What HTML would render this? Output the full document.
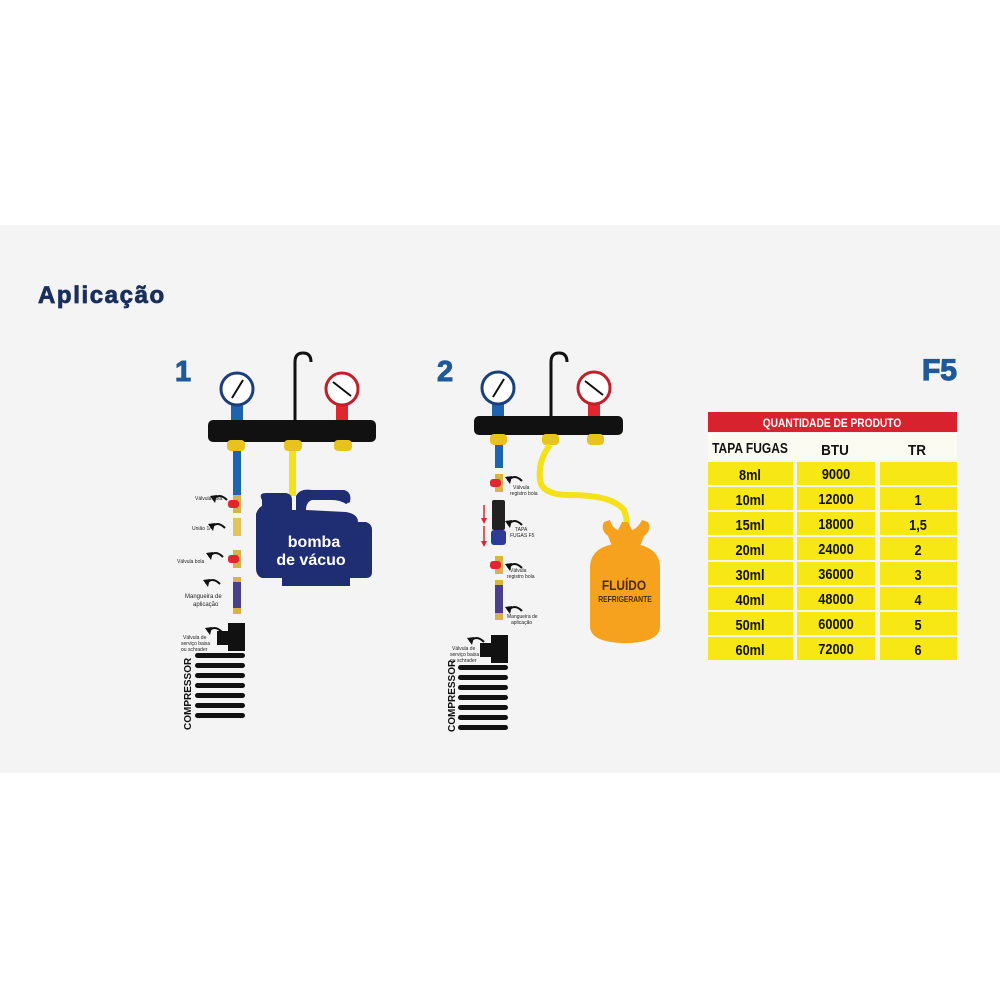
<!DOCTYPE html>
<html><head><meta charset="utf-8"><style>
html,body{margin:0;padding:0;background:#fff;}
svg{display:block;font-family:"Liberation Sans",sans-serif;}
</style></head><body>
<svg width="1000" height="1000" viewBox="0 0 1000 1000" xmlns="http://www.w3.org/2000/svg">
<defs>
<g id="arr"><path d="M0 6 Q6 -2 14 6" fill="none" stroke="#111" stroke-width="2"/><path d="M-3 2 L2 9 L4 1 Z" fill="#111"/></g>
<g id="comp">
 <rect x="33" y="0" width="17" height="28" fill="#111"/>
 <rect x="22" y="8" width="12" height="14" fill="#111"/>
 <rect x="0" y="30" width="50" height="5" rx="2.5" fill="#111"/>
 <rect x="0" y="40" width="50" height="5" rx="2.5" fill="#111"/>
 <rect x="0" y="50" width="50" height="5" rx="2.5" fill="#111"/>
 <rect x="0" y="60" width="50" height="5" rx="2.5" fill="#111"/>
 <rect x="0" y="70" width="50" height="5" rx="2.5" fill="#111"/>
 <rect x="0" y="80" width="50" height="5" rx="2.5" fill="#111"/>
 <rect x="0" y="90" width="50" height="5" rx="2.5" fill="#111"/>
</g>
<g id="valve"><rect x="-4" y="-8" width="8" height="18" fill="#d9b24a"/><rect x="-9" y="-3" width="11" height="8" rx="3" fill="#e0262e"/></g>
</defs>
<rect x="0" y="225" width="1000" height="548" fill="#f4f4f4"/>
<text x="38" y="303" font-size="24" font-weight="bold" fill="#1b2f5c" stroke="#1b2f5c" stroke-width="0.8" letter-spacing="1.6">Aplicação</text>

<!-- Diagram 1 -->
<text x="175" y="381" font-size="29" font-weight="bold" fill="#1e5a9a" stroke="#1e5a9a" stroke-width="1">1</text>
<path d="M295 425 L295 362 Q295 353 303 353 Q311 353 311 362" fill="none" stroke="#111" stroke-width="3"/>
<rect x="231" y="402" width="12" height="20" fill="#1e63b0"/>
<circle cx="237" cy="389" r="16" fill="#fff" stroke="#1b3f7d" stroke-width="3"/>
<line x1="232" y1="398" x2="243" y2="380" stroke="#111" stroke-width="2"/>
<rect x="336" y="402" width="12" height="20" fill="#e0262e"/>
<circle cx="342" cy="389" r="16" fill="#fff" stroke="#c0202a" stroke-width="3"/>
<line x1="333" y1="382" x2="351" y2="396" stroke="#111" stroke-width="2"/>
<rect x="208" y="420" width="168" height="22" rx="5" fill="#111"/>
<rect x="227" y="440" width="18" height="11" rx="4" fill="#e8c21e"/>
<rect x="284" y="440" width="18" height="11" rx="4" fill="#e8c21e"/>
<rect x="334" y="440" width="18" height="11" rx="4" fill="#e8c21e"/>
<rect x="233" y="451" width="8" height="44" fill="#1e63b0"/>
<rect x="289" y="451" width="7" height="45" fill="#f5e11a"/>
<use href="#valve" x="237" y="503"/>
<rect x="233" y="518" width="8" height="18" fill="#e2c45a"/>
<use href="#valve" x="237" y="558"/>
<rect x="233" y="577" width="8" height="5" fill="#d9b24a"/>
<rect x="233" y="582" width="8" height="26" fill="#4a3f8a"/>
<rect x="233" y="608" width="8" height="6" fill="#d9b24a"/>
<use href="#arr" x="213" y="494"/><text x="195" y="500" font-size="5" fill="#222">Válvula bola</text>
<use href="#arr" x="211" y="522"/><text x="192" y="530" font-size="5" fill="#222">União 1/4</text>
<use href="#arr" x="209" y="551"/><text x="177" y="563" font-size="5" fill="#222">Válvula bola</text>
<use href="#arr" x="206" y="578"/><text x="185" y="598" font-size="6" fill="#222">Mangueira de</text><text x="193" y="606" font-size="6" fill="#222">aplicação</text>
<use href="#arr" x="208" y="626"/><text x="183" y="639" font-size="5" fill="#222">Válvula de</text><text x="181" y="645" font-size="5" fill="#222">serviço baixa</text><text x="181" y="651" font-size="5" fill="#222">ou schrader</text>
<use href="#comp" x="195" y="623"/>
<text transform="translate(191 730) rotate(-90)" font-size="10" font-weight="bold" fill="#111">COMPRESSOR</text>
<!-- pump -->
<path d="M262 500 Q258 493 266 493 L286 493 Q292 494 292 500 L292 510 L296 510 L296 496 Q300 488 312 490 L344 490 Q352 492 350 502 L346 504 Q340 500 332 500 L312 500 Q306 502 306 510 L346 512 Q358 514 358 522 L366 522 Q372 524 372 530 L372 572 Q372 578 366 578 L350 578 L350 586 L282 586 L282 578 L262 578 Q256 576 256 568 L256 514 Q258 508 262 506 Z" fill="#1f2d73"/>
<text x="314" y="547" font-size="16" font-weight="bold" fill="#fff" text-anchor="middle">bomba</text>
<text x="311" y="565" font-size="16" font-weight="bold" fill="#fff" text-anchor="middle">de vácuo</text>

<!-- Diagram 2 -->
<text x="437" y="381" font-size="29" font-weight="bold" fill="#1e5a9a" stroke="#1e5a9a" stroke-width="1">2</text>
<path d="M551 420 L551 362 Q551 353 559 353 Q567 353 567 362" fill="none" stroke="#111" stroke-width="3"/>
<rect x="492" y="402" width="12" height="16" fill="#1e63b0"/>
<circle cx="498" cy="388" r="16" fill="#fff" stroke="#1b3f7d" stroke-width="3"/>
<line x1="493" y1="397" x2="504" y2="379" stroke="#111" stroke-width="2"/>
<rect x="588" y="402" width="12" height="16" fill="#e0262e"/>
<circle cx="594" cy="388" r="16" fill="#fff" stroke="#c0202a" stroke-width="3"/>
<line x1="585" y1="381" x2="603" y2="395" stroke="#111" stroke-width="2"/>
<rect x="474" y="416" width="149" height="19" rx="5" fill="#111"/>
<rect x="490" y="434" width="17" height="11" rx="4" fill="#e8c21e"/>
<rect x="542" y="434" width="17" height="11" rx="4" fill="#e8c21e"/>
<rect x="587" y="434" width="17" height="11" rx="4" fill="#e8c21e"/>
<rect x="495" y="445" width="8" height="23" fill="#1e63b0"/>
<path d="M550 445 Q538 460 540 480 Q542 495 570 495 Q612 495 624 510 Q628 520 626 532" fill="none" stroke="#f5e11a" stroke-width="6"/>
<use href="#valve" x="499" y="482"/>
<rect x="492" y="500" width="13" height="30" rx="2" fill="#222"/>
<rect x="491" y="530" width="15" height="15" rx="3" fill="#2e3a9a"/>
<path d="M484 505 L484 520" stroke="#e0262e" stroke-width="1.5"/><path d="M481 518 L487 518 L484 524 Z" fill="#e0262e"/>
<path d="M484 526 L484 543" stroke="#e0262e" stroke-width="1.5"/><path d="M481 541 L487 541 L484 547 Z" fill="#e0262e"/>
<use href="#valve" x="499" y="564"/>
<rect x="495" y="580" width="8" height="5" fill="#d9b24a"/>
<rect x="495" y="585" width="8" height="28" fill="#4a3f8a"/>
<rect x="495" y="613" width="8" height="7" fill="#d9b24a"/>
<use href="#arr" x="508" y="475"/><text x="513" y="489" font-size="5" fill="#222">Válvula</text><text x="510" y="495" font-size="5" fill="#222">registro bola</text>
<use href="#arr" x="508" y="519"/><text x="515" y="531" font-size="5" fill="#222">TAPA</text><text x="510" y="537" font-size="5" fill="#222">FUGAS F5</text>
<use href="#arr" x="508" y="562"/><text x="510" y="572" font-size="5" fill="#222">Válvula</text><text x="507" y="578" font-size="5" fill="#222">registro bola</text>
<use href="#arr" x="508" y="605"/><text x="507" y="618" font-size="5" fill="#222">Mangueira de</text><text x="511" y="624" font-size="5" fill="#222">aplicação</text>
<use href="#arr" x="470" y="636"/><text x="452" y="650" font-size="5" fill="#222">Válvula de</text><text x="450" y="656" font-size="5" fill="#222">serviço baixa</text><text x="450" y="662" font-size="5" fill="#222">ou schrader</text>
<use href="#comp" x="458" y="635"/>
<text transform="translate(455 732) rotate(-90)" font-size="10" font-weight="bold" fill="#111">COMPRESSOR</text>
<!-- tank -->
<path d="M604 522 Q600 530 608 536 L612 546 L640 546 L644 536 Q652 530 648 522 L642 520 Q638 528 632 530 L628 522 L622 522 L618 530 Q612 528 610 520 Z" fill="#f7a21e"/>
<path d="M590 568 Q590 544 625 543 Q660 544 660 568 L660 626 Q660 642 628 643 L622 643 Q590 642 590 626 Z" fill="#f7a21e"/>
<text transform="translate(624 590) scale(0.85 1)" font-size="14" font-weight="bold" fill="#4a2a10" text-anchor="middle">FLUÍDO</text>
<text transform="translate(625 602) scale(0.85 1)" font-size="8" font-weight="bold" fill="#4a2a10" text-anchor="middle">REFRIGERANTE</text>

<!-- Table -->
<text x="957" y="380" font-size="30" font-weight="bold" fill="#1e5a9a" stroke="#1e5a9a" stroke-width="1.2" text-anchor="end">F5</text>
<rect x="708" y="412" width="249" height="20" fill="#d8232e"/>
<text transform="translate(832 427) scale(0.85 1)" font-size="12" font-weight="bold" fill="#fff" text-anchor="middle">QUANTIDADE DE PRODUTO</text>
<rect x="708" y="433" width="249" height="27" fill="#fbfbf2"/>
<g font-size="15" font-weight="bold" fill="#111" text-anchor="middle">
<text transform="translate(750 453) scale(0.8 1)">TAPA FUGAS</text><text transform="translate(835 455) scale(0.9 1)">BTU</text><text transform="translate(917 455) scale(0.9 1)">TR</text>
</g>
<g fill="#f7e715">
<rect x="708" y="462" width="85" height="23"/><rect x="797" y="462" width="78" height="23"/><rect x="880" y="462" width="77" height="23"/>
<rect x="708" y="487" width="85" height="23"/><rect x="797" y="487" width="78" height="23"/><rect x="880" y="487" width="77" height="23"/>
<rect x="708" y="512" width="85" height="23"/><rect x="797" y="512" width="78" height="23"/><rect x="880" y="512" width="77" height="23"/>
<rect x="708" y="537" width="85" height="23"/><rect x="797" y="537" width="78" height="23"/><rect x="880" y="537" width="77" height="23"/>
<rect x="708" y="562" width="85" height="23"/><rect x="797" y="562" width="78" height="23"/><rect x="880" y="562" width="77" height="23"/>
<rect x="708" y="587" width="85" height="23"/><rect x="797" y="587" width="78" height="23"/><rect x="880" y="587" width="77" height="23"/>
<rect x="708" y="612" width="85" height="23"/><rect x="797" y="612" width="78" height="23"/><rect x="880" y="612" width="77" height="23"/>
<rect x="708" y="637" width="85" height="23"/><rect x="797" y="637" width="78" height="23"/><rect x="880" y="637" width="77" height="23"/>
</g>
<g font-size="15" font-weight="bold" fill="#111" text-anchor="middle">
<text transform="translate(750 480) scale(0.85 1)">8ml</text><text transform="translate(836 479) scale(0.85 1)">9000</text>
<text transform="translate(750 505) scale(0.85 1)">10ml</text><text transform="translate(836 504) scale(0.85 1)">12000</text><text transform="translate(918 505) scale(0.85 1)">1</text>
<text transform="translate(750 530) scale(0.85 1)">15ml</text><text transform="translate(836 529) scale(0.85 1)">18000</text><text transform="translate(918 530) scale(0.85 1)">1,5</text>
<text transform="translate(750 555) scale(0.85 1)">20ml</text><text transform="translate(836 554) scale(0.85 1)">24000</text><text transform="translate(918 555) scale(0.85 1)">2</text>
<text transform="translate(750 580) scale(0.85 1)">30ml</text><text transform="translate(836 579) scale(0.85 1)">36000</text><text transform="translate(918 580) scale(0.85 1)">3</text>
<text transform="translate(750 605) scale(0.85 1)">40ml</text><text transform="translate(836 604) scale(0.85 1)">48000</text><text transform="translate(918 605) scale(0.85 1)">4</text>
<text transform="translate(750 630) scale(0.85 1)">50ml</text><text transform="translate(836 629) scale(0.85 1)">60000</text><text transform="translate(918 630) scale(0.85 1)">5</text>
<text transform="translate(750 655) scale(0.85 1)">60ml</text><text transform="translate(836 654) scale(0.85 1)">72000</text><text transform="translate(918 655) scale(0.85 1)">6</text>
</g>
</svg>
</body></html>
